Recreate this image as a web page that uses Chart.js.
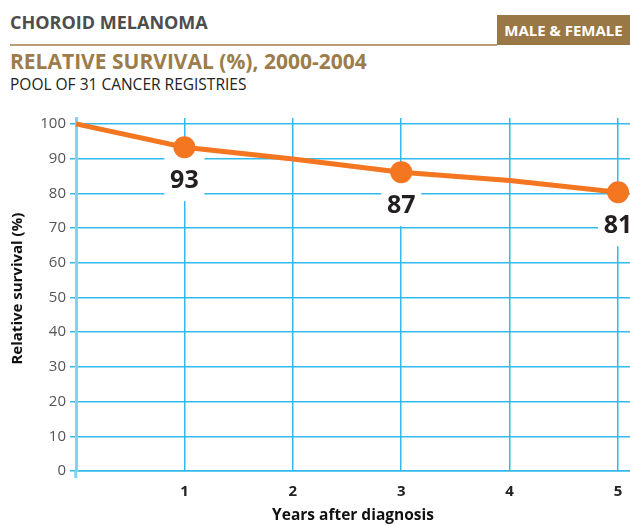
<!DOCTYPE html>
<html>
<head>
<meta charset="utf-8">
<script src="https://cdn.jsdelivr.net/npm/chart.js@4.4.0/dist/chart.umd.min.js"></script>
<style>
  body { margin: 0; width: 630px; height: 525px; background: #fff; position: relative; overflow: hidden; font-family: "Open Sans", sans-serif; }
  .hd { position: absolute; white-space: nowrap; }
  #site { left: 10px; top: 10px; font-weight: bold; font-size: 18px; color: #4d4d4d; }
  #rule { position: absolute; left: 10px; top: 44px; width: 487px; height: 2px; background: #b89e74; }
  #sex { left: 497px; top: 15px; width: 133px; height: 30px; background: #9a7846; color: #fff; font-weight: bold; font-size: 15px; line-height: 30px; text-align: center; }
  #title { left: 10px; top: 47px; font-weight: bold; font-size: 21px; color: #9c7c4a; }
  #sub { left: 10px; top: 73px; font-size: 15.5px; color: #222; }
  #wrap { position: absolute; left: 0; top: 100px; width: 630px; height: 425px; }
</style>
</head>
<body>
<div class="hd" id="site">CHOROID MELANOMA</div>
<div id="rule"></div>
<div class="hd" id="sex">MALE &amp; FEMALE</div>
<div class="hd" id="title">RELATIVE SURVIVAL (%), 2000-2004</div>
<div class="hd" id="sub">POOL OF 31 CANCER REGISTRIES</div>
<div id="wrap"><canvas id="survival-chart" width="630" height="425"></canvas></div>
<script>
// values
const years = [0, 1, 2, 3, 4, 5];
const survival = [100, 93.3, 89.9, 86.1, 83.7, 80.3];
const markerYears = [1, 3, 5];
const markerLabels = ["93", "87", "81"];
const xTicks = [0, 1, 2, 3, 4, 5];
const yTicks = [0, 10, 20, 30, 40, 50, 60, 70, 80, 90, 100];

const orange = "#f47621";
const gridBlue = "#33b9ec";
const axisBlue = "#7fd3f5";

// white box + number under each marker
const valueLabels = {
  id: "valueLabels",
  beforeDatasetsDraw(chart) {
    const ctx = chart.ctx;
    ctx.save();
    ctx.fillStyle = "#fff";
    markerYears.forEach((yr) => {
      const px = chart.scales.x.getPixelForValue(yr);
      const py = chart.scales.y.getPixelForValue(survival[years.indexOf(yr)]);
      ctx.fillRect(px - 20, py + 6, 40, 48);
    });
    ctx.restore();
  },
  afterDatasetsDraw(chart) {
    const ctx = chart.ctx;
    ctx.save();
    ctx.fillStyle = "#231f20";
    ctx.font = "bold 25px 'Open Sans', sans-serif";
    ctx.textAlign = "center";
    ctx.textBaseline = "middle";
    markerYears.forEach((yr, i) => {
      const px = chart.scales.x.getPixelForValue(yr);
      const py = chart.scales.y.getPixelForValue(survival[years.indexOf(yr)]);
      ctx.fillText(markerLabels[i], px, py + 34);
    });
    ctx.restore();
  },
};

new Chart(document.getElementById("survival-chart"), {
  type: "line",
  data: {
    datasets: [
      {
        data: years.map((yr, i) => ({ x: yr, y: survival[i] })),
        borderColor: orange,
        borderWidth: 5,
        tension: 0,
        pointRadius: years.map((yr) => (markerYears.includes(yr) ? 11 : 0)),
        pointHoverRadius: years.map((yr) => (markerYears.includes(yr) ? 11 : 0)),
        pointBackgroundColor: orange,
        pointBorderWidth: 0,
        clip: false,
      },
    ],
  },
  options: {
    responsive: false,
    animation: false,
    devicePixelRatio: 1,
    layout: { autoPadding: false, padding: { top: 18, right: 0, left: 0, bottom: 0 } },
    plugins: { legend: { display: false }, tooltip: { enabled: false } },
    scales: {
      x: {
        type: "linear",
        min: 0,
        max: 5.11,
        afterBuildTicks: (s) => { s.ticks = xTicks.map((v) => ({ value: v })); },
        afterFit: (s) => { s.height = 54; },
        grid: {
          color: (c) => (c.tick && c.tick.value === 0 ? "rgba(0,0,0,0)" : gridBlue),
          lineWidth: 1.5,
          tickLength: 7,
          tickWidth: 3,
          tickColor: (c) => (c.tick && c.tick.value === 0 ? axisBlue : "rgba(0,0,0,0)"),
        },
        border: { color: gridBlue, width: 1.5 },
        ticks: {
          autoSkip: false,
          maxRotation: 0,
          padding: 5,
          color: "#222",
          font: { family: "'Open Sans', sans-serif", size: 15, weight: "bold" },
          callback: (v) => (v === 0 ? "" : v),
        },
        title: {
          display: true,
          text: "Years after diagnosis",
          color: "#111",
          font: { family: "'Open Sans', sans-serif", size: 15.5, weight: "bold" },
          padding: { top: 4, bottom: 0 },
        },
      },
      y: {
        min: 0,
        max: 101.7,
        afterBuildTicks: (s) => { s.ticks = yTicks.map((v) => ({ value: v })); },
        afterFit: (s) => { s.width = 76; },
        grid: { color: gridBlue, lineWidth: 1.5, tickLength: 6, tickColor: gridBlue },
        border: { color: axisBlue, width: 3 },
        ticks: {
          padding: 4,
          color: "#555",
          font: { family: "'Open Sans', sans-serif", size: 15 },
        },
        title: {
          display: true,
          text: "   Relative survival (%)",
          color: "#111",
          font: { family: "'Open Sans', sans-serif", size: 15, weight: "bold" },
          padding: { top: 9, bottom: 0 },
        },
      },
    },
  },
  plugins: [valueLabels],
});
</script>
</body>
</html>
